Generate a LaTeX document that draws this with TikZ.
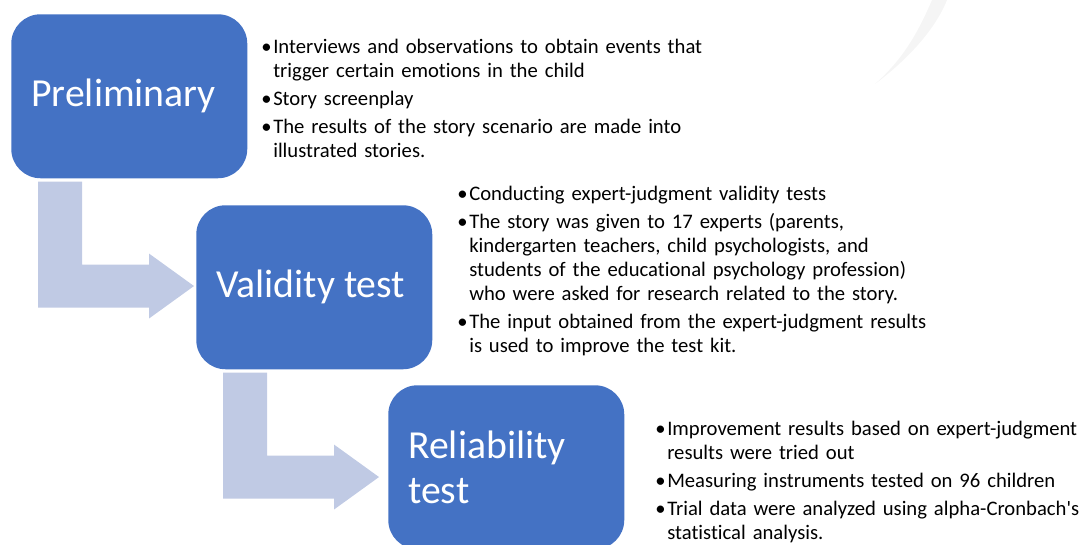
\documentclass[tikz,border=0pt]{standalone}
\usepackage{fontspec}
\setmainfont{Carlito}[Ligatures=NoCommon]
\usetikzlibrary{positioning}
\definecolor{StageBlue}{HTML}{4472C4}
\definecolor{ArrowTint}{HTML}{C0CAE4}
\definecolor{SwooshGray}{HTML}{F5F5F5}
% one bullet paragraph with a hanging indent, never hyphenated
\newcommand{\bulletitem}[1]{\hyphenpenalty=10000\hangindent=9pt\hangafter=1\noindent\makebox[9pt][l]{\textbullet}#1\par}

\begin{document}
\begin{tikzpicture}[
  x=0.75pt, y=-0.75pt,
  stage/.style={fill=StageBlue, rounded corners=22pt, anchor=north west,
    minimum height=123pt, text width=147pt, inner xsep=15pt, inner ysep=0pt,
    align=flush left, text=white, font=\fontsize{29.8}{34}\selectfont},
  notes/.style={anchor=north west, inner sep=0pt, text width=400pt, align=left,
    font=\fontsize{15.5}{18}\selectfont\setlength{\parskip}{3pt}},
  bentarrow/.style={fill=ArrowTint}
]
\useasboundingbox (0,0) rectangle (1089,545);
% faint swoosh in the corner
\fill[SwooshGray] (932,0) .. controls (917,35) and (902,60) .. (875,84)
  .. controls (907,60) and (935,30) .. (947,0) -- cycle;

\node[stage] (prelim) at (11,14) {Preliminary};
\node[stage] (validity) at (196,205) {Validity test};
\node[stage] (reliability) at (388,385) {Reliability\\test};

\node[notes] (prelimnotes) at (261,39) {%
  \bulletitem{Interviews and observations to obtain events that\newline trigger certain emotions in the child}
  \bulletitem{Story screenplay}
  \bulletitem{The results of the story scenario are made into\newline illustrated stories.}};
\node[notes] (validitynotes) at (457,186) {%
  \bulletitem{Conducting expert-judgment validity tests}
  \bulletitem{The story was given to 17 experts (parents,\newline kindergarten teachers, child psychologists, and\newline students of the educational psychology profession)\newline who were asked for research related to the story.}
  \bulletitem{The input obtained from the expert-judgment results\newline is used to improve the test kit.}};
\node[notes] (reliabilitynotes) at (655,421) {%
  \bulletitem{Improvement results based on expert-judgment\newline results were tried out}
  \bulletitem{Measuring instruments tested on 96 children}
  \bulletitem{Trial data were analyzed using alpha-Cronbach\textquotesingle s\newline statistical analysis.}};

% bent arrows hanging off each stage
\foreach \src in {prelim, validity}
  \fill[bentarrow, shift={(\src.south west)}] (27,3) -- (71,3) -- (71,86) -- (138,86)
    -- (138,75) -- (183,107.5) -- (138,140) -- (138,129) -- (27,129) -- cycle;
\end{tikzpicture}
\end{document}
